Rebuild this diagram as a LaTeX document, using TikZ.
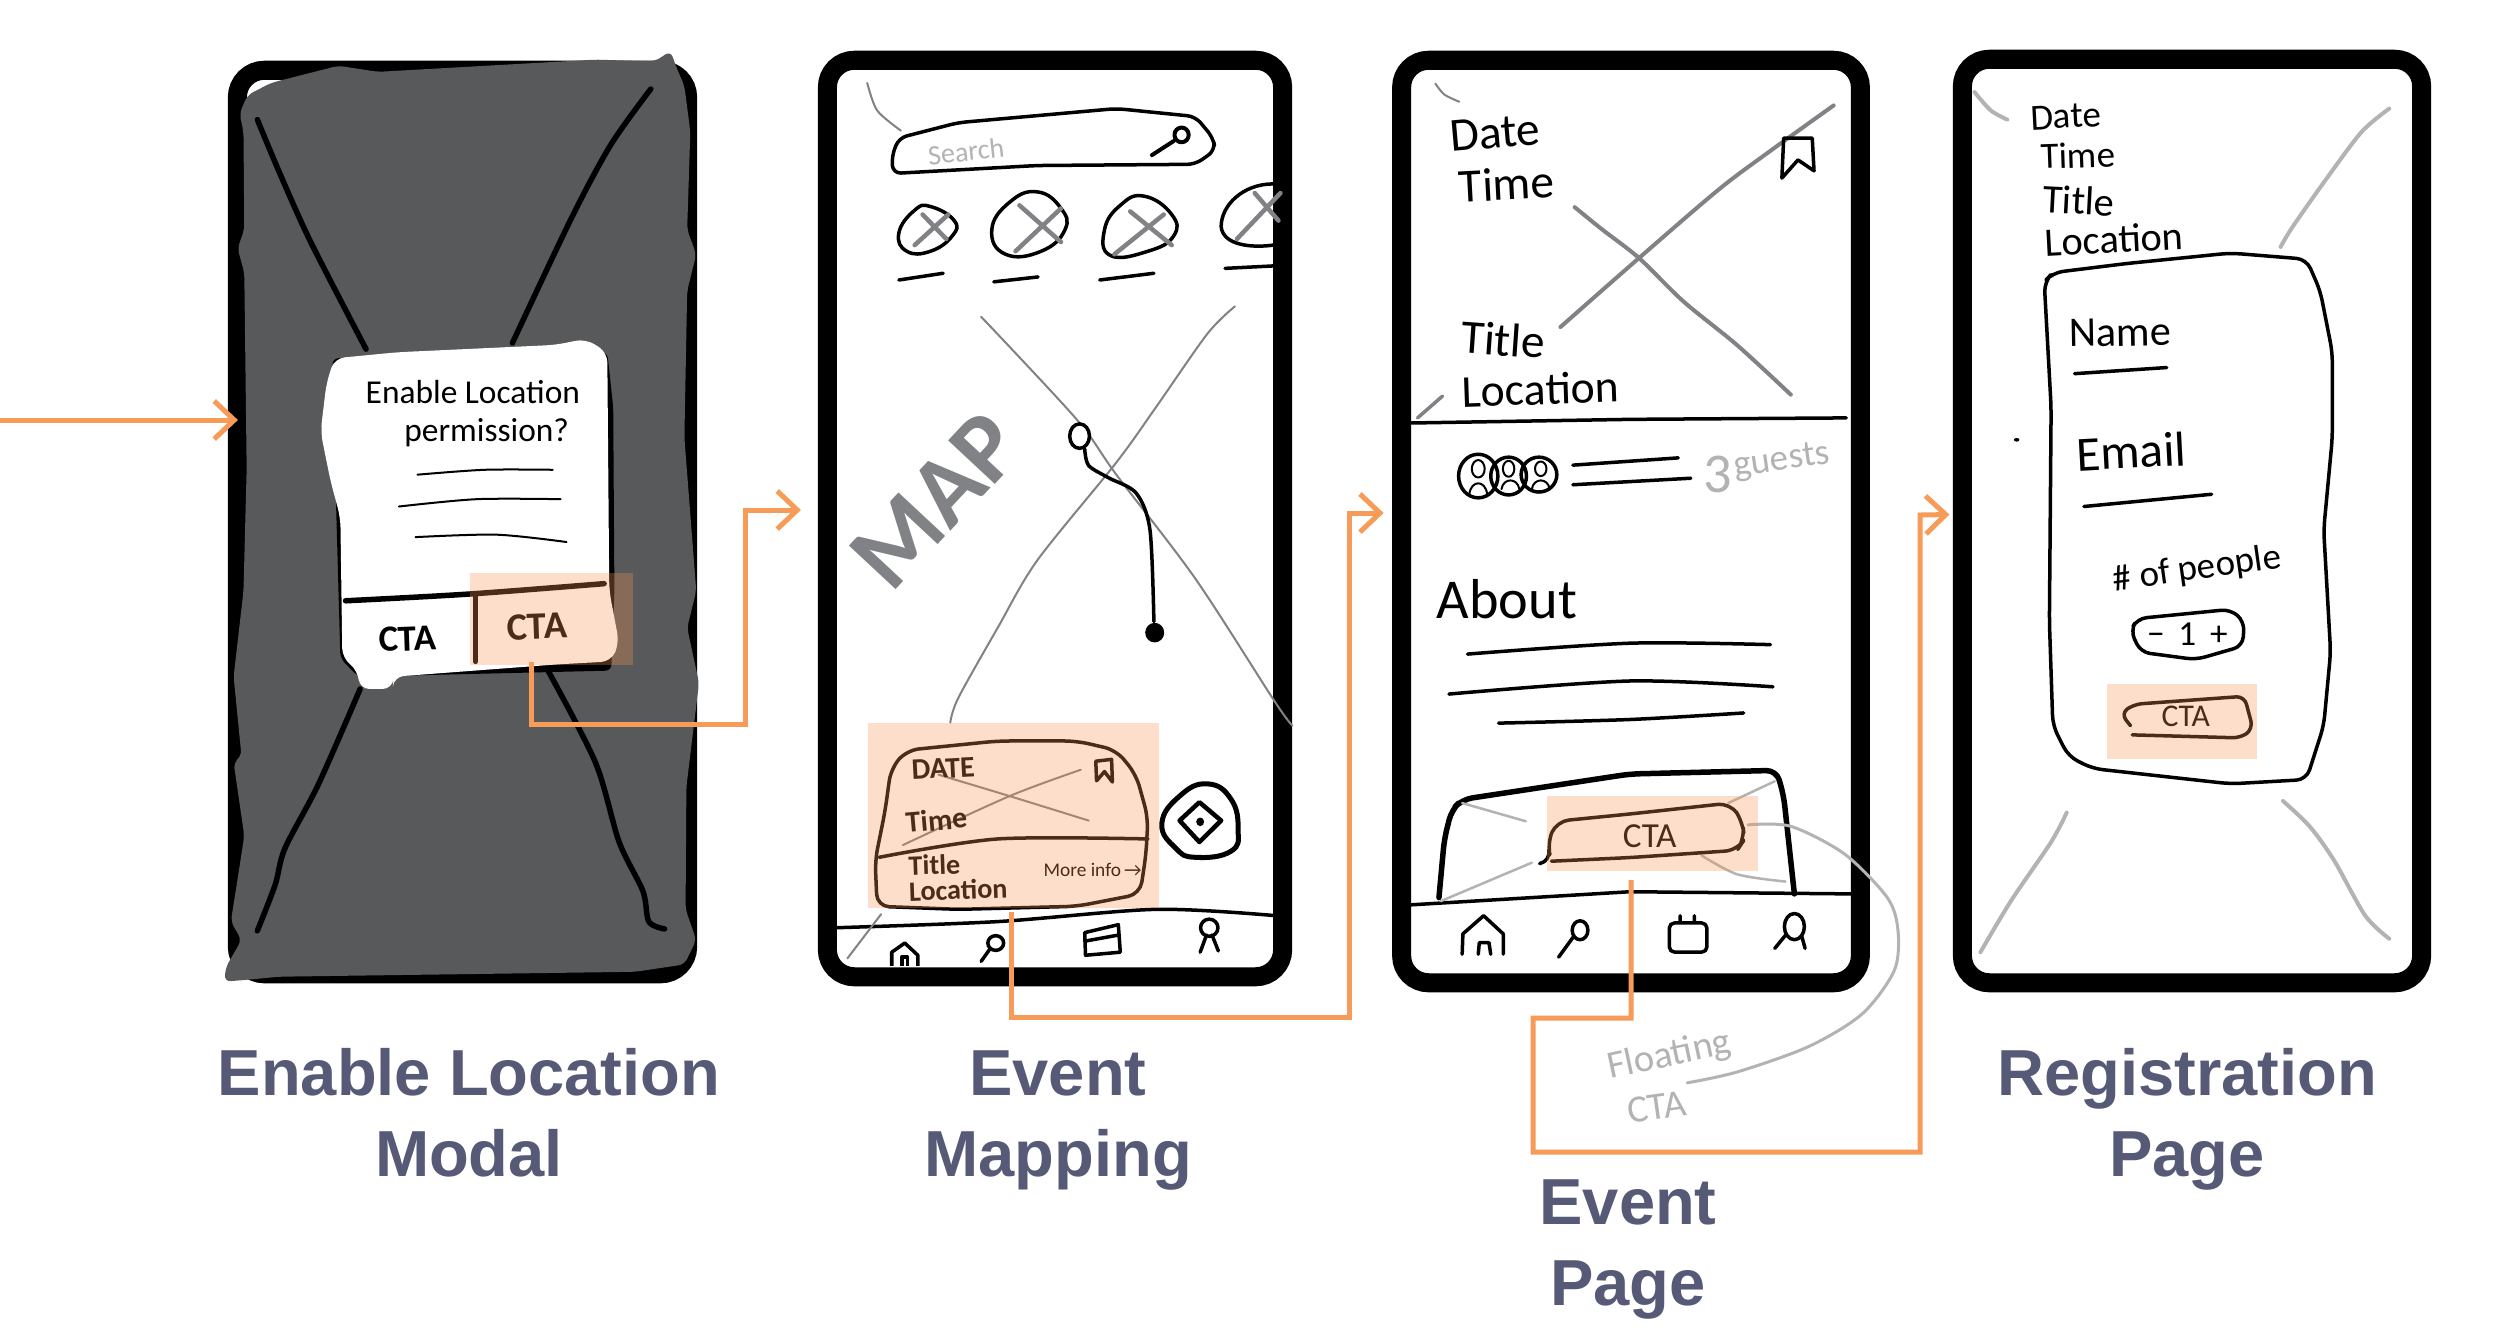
\documentclass[tikz,border=0pt]{standalone}
\usepackage{fontspec}
\setmainfont{Noto Sans}
\newfontfamily\handf{Carlito}
\newfontfamily\capf{Liberation Sans}
\usetikzlibrary{arrows.meta}
\definecolor{inkgray}{HTML}{808285}
\definecolor{softgray}{HTML}{B3B3B3}
\definecolor{blobgray}{HTML}{58595B}
\definecolor{flowc}{HTML}{F79B58}
\definecolor{hlc}{HTML}{F69450}
\definecolor{capc}{HTML}{565A76}
\tikzset{
  z1/.style={shift={(200,40)},x=0.003954cm,y=-0.006124cm},
  z2/.style={shift={(800,40)},x=0.003954cm,y=-0.006124cm},
  z3/.style={shift={(1380,40)},x=0.003571cm,y=-0.00727cm},
  z4/.style={shift={(1920,40)},x=0.003444cm,y=-0.006124cm},
  ink/.style={draw=black,line width=0.035cm,line cap=round,line join=round},
  thick ink/.style={ink,line width=0.055cm},
  thin ink/.style={ink,line width=0.02cm},
  gray ink/.style={ink,draw=inkgray,line width=0.02cm},
  soft ink/.style={ink,draw=softgray,line width=0.04cm},
  gx/.style={ink,draw=inkgray,line width=0.045cm},
  phone/.style={draw=black,fill=white,line width=0.19cm,rounded corners=0.27cm,inner sep=0,outer sep=0},
  hilite/.style={fill=hlc,fill opacity=0.3,inner sep=0,outer sep=0},
  flow/.style={draw=flowc,line width=0.05cm,line join=miter,-{Straight Barb[length=0.2cm,width=0.38cm,line width=0.05cm]}},
  hand/.style={font=\handf,inner sep=0,text=black},
  capt/.style={font=\capf\fontsize{18.5}{23}\selectfont\bfseries,text=capc,anchor=base,inner sep=0},
}
\newcommand\sk[2][ink]{\draw[#1] plot[smooth,tension=.5] coordinates {#2};}
\newcommand\skc[2][ink]{\draw[#1] plot[smooth cycle,tension=.8] coordinates {#2};}
\newcommand\fs[1]{\fontsize{#1}{#1}\selectfont}
\begin{document}
\begin{tikzpicture}[x=0.01cm,y=-0.01cm]
\useasboundingbox (0,0) rectangle (2500,1338);
\fill[white] (0,0) rectangle (2500,1338);
% phones
\node[phone,minimum width=4.50cm,minimum height=9.03cm] (ph1) at (462.5,522) {};
\node[phone,minimum width=4.55cm,minimum height=9.16cm] (ph2) at (1055,518.5) {};
\node[phone,minimum width=4.585cm,minimum height=9.22cm] (ph3) at (1631,521.5) {};
\node[phone,minimum width=4.59cm,minimum height=9.23cm] (ph4) at (2192,521) {};
% ---------- phone 1
\begin{scope}[z1]
\fill[blobgray,rounded corners=0.06cm] (100,120)--(120,90)--(180,70)--(350,42)--(450,52)--(1000,32)--(1150,35)--(1190,18)--(1205,45)--(1225,75)--(1240,150)--(1232,310)--(1255,350)--(1232,410)--(1225,650)--(1255,900)--(1232,960)--(1262,1050)--(1230,1220)--(1228,1420)--(1255,1470)--(1225,1510)--(1100,1522)--(200,1530)--(120,1535)--(62,1538)--(65,1515)--(105,1470)--(78,1440)--(100,1350)--(112,1300)--(85,1180)--(105,1170)--(85,1040)--(110,900)--(118,700)--(112,380)--(95,340)--(112,310)--(110,150)--cycle;
\sk[thick ink]{(145,130)(200,215)(280,330)(420,505)}
\sk[thick ink]{(1140,80)(1040,170)(940,290)(790,495)}
\sk[thick ink]{(405,1060)(300,1215)(215,1320)(190,1380)(145,1455)}
\sk[thick ink]{(880,1030)(1000,1180)(1060,1310)(1120,1390)(1135,1440)(1175,1452)}
\fill[black,rounded corners=0.06cm] (335,520)--(1030,510)--(1045,600)--(1048,900)--(1040,1030)--(400,1040)--(355,1010)--(345,780)--cycle;
\fill[white,rounded corners=0.1cm] (340,520)--(500,510)--(900,498)--(975,488)--(1030,510)--(1035,900)--(1060,985)--(1040,1015)--(900,1020)--(490,1040)--(487,1060)--(403,1060)--(400,1030)--(360,1010)--(355,780)--(330,720)--(305,640)--(320,560)--cycle;
\node[hand,font=\handf\fs{9.5}] (m1) at (690,575) {Enable Location};
\node[hand,font=\handf\fs{9.5}] (m2) at (725,641) {permission?};
\sk[thin ink]{(550,710)(720,702)(892,702)}
\sk[thin ink]{(503,762)(700,750)(912,750)}
\sk[thin ink]{(545,812)(750,808)(927,820)}
\sk[thick ink]{(368,916)(680,905)(1022,888)}
\draw[thick ink] (697,905)--(697,1015);
\node[hand,font=\handf\bfseries\fs{10.5},rotate=2] (m3) at (525,978) {CTA};
\node[hand,font=\handf\bfseries\fs{11},rotate=2] (m4) at (852,958) {CTA};
\end{scope}
\node[hilite,minimum width=1.62cm,minimum height=0.92cm] (hl1) at (551.5,619) {};
% ---------- phone 2
\begin{scope}[z2]
\sk[gray ink]{(170,70)(195,115)(255,148)}
\draw[ink,rounded corners=0.08cm] (235,218)--(232,190)--(250,160)--(400,135)--(800,112)--(1000,125)--(1045,160)--(1050,180)--(1000,203)--(600,205)--cycle;
\node[hand,font=\handf\fs{8},text=softgray,rotate=6] (s1) at (420,182) {Search};
\draw[ink,line width=0.04cm] (965,155) ellipse[x radius=18,y radius=12];
\draw[ink,line width=0.04cm] (945,165)--(890,188);
\skc{(250,315)(290,278)(330,272)(390,295)(385,320)(330,345)(270,345)}
\skc{(485,310)(530,265)(600,248)(660,275)(670,310)(610,345)(520,350)}
\skc{(770,310)(810,270)(870,255)(940,285)(945,320)(880,345)(785,352)}
\draw[ink] (1197,235) .. controls (1120,235) and (1065,270) .. (1065,305) .. controls (1070,335) and (1140,340) .. (1197,335);
\draw[gx] (290,335)--(375,285) (310,285)--(370,325);
\draw[gx] (545,345)--(660,275) (555,270)--(660,330);
\draw[gx] (795,350)--(920,285) (835,280)--(940,335);
\draw[gx] (1105,325)--(1215,250) (1150,250)--(1210,295);
\draw[ink,line width=0.035cm] (250,392)--(362,381) (490,395)--(602,387) (758,392)--(895,381) (1075,373)--(1197,369);
\sk[gray ink]{(458,452)(700,620)(800,710)(1000,880)(1200,1080)(1245,1120)}
\sk[gray ink]{(1100,435)(1030,480)(900,600)(800,690)(600,850)(500,960)(400,1075)(380,1115)}
\node[font=\handf\bfseries\fs{28},text=inkgray,rotate=47,inner sep=0] (s2) at (344,752) {MAP};
\draw[ink,fill=white] (707,647) ellipse[x radius=25,y radius=20];
\sk{(720,668)(730,695)(780,715)(850,740)(885,800)(895,950)}
\fill[black] (897,968) ellipse[x radius=24,y radius=16];
\draw[ink,rounded corners=0.12cm] (195,1415)--(190,1340)--(215,1260)--(230,1190)--(270,1160)--(500,1145)--(700,1145)--(800,1160)--(850,1200)--(880,1270)--(875,1330)--(860,1395)--(700,1415)--(400,1420)--cycle;
\sk{(200,1335)(500,1305)(880,1305)}
\sk[gray ink]{(350,1200)(530,1235)(730,1275)}
\sk[gray ink]{(260,1315)(530,1235)(710,1192)}
\node[hand,font=\handf\bfseries\fs{8.5},rotate=3] (s3) at (362,1190) {DATE};
\node[hand,font=\handf\bfseries\fs{8.5},rotate=5] (s4) at (345,1274) {Time};
\node[hand,font=\handf\bfseries\fs{8},rotate=2] (s5) at (340,1347) {Title};
\node[hand,font=\handf\bfseries\fs{8},rotate=2] (s6) at (400,1388) {Location};
\node[hand,font=\handf\fs{5.5}] (s7) at (740,1355) {More info\,→};
\draw[ink] (750,1210)--(748,1178)--(788,1175)--(790,1212)--(770,1195)--cycle;
\skc[ink,line width=0.05cm]{(915,1280)(960,1235)(1030,1215)(1090,1240)(1108,1290)(1090,1325)(1000,1335)(950,1320)}
\draw[ink,line width=0.045cm] (960,1275)--(1010,1245)--(1065,1275)--(1010,1310)--cycle;
\fill[black] (1012,1277) circle[x radius=10,y radius=7];
\sk{(93,1450)(500,1440)(900,1420)(1197,1430)}
\draw[gray ink] (120,1500)--(205,1428);
\begin{scope}
\clip (200,1460) rectangle (330,1512);
\draw[ink] (232,1512)--(232,1490)--(265,1475)--(298,1495)--(298,1512);
\draw[ink] (258,1512)--(258,1498)--(272,1498)--(272,1512);
\end{scope}
\draw[ink] (495,1475) ellipse[x radius=20,y radius=12];
\draw[ink] (480,1485)--(458,1505);
\draw[ink] (720,1458)--(805,1445)--(810,1490)--(722,1495)--cycle (720,1472)--(805,1462);
\draw[ink] (1035,1450) ellipse[x radius=22,y radius=14];
\draw[ink] (1012,1490)--(1028,1462) (1042,1462)--(1058,1488);
\end{scope}
\node[hilite,minimum width=2.906cm,minimum height=1.85cm] (hl2) at (1013.3,815.5) {};
% ---------- phone 3
\begin{scope}[z3]
\sk[gray ink]{(155,60)(180,75)(222,85)}
\draw[ink,draw=inkgray] (105,520)--(175,490);
\node[hand,font=\handf\fs{13.5},rotate=5] (e1) at (322,128) {Date};
\node[hand,font=\handf\fs{13.5},rotate=3] (e2) at (355,198) {Time};
\node[hand,font=\handf\fs{13.5},rotate=-4] (e3) at (345,412) {Title};
\node[hand,font=\handf\fs{13},rotate=2] (e4) at (450,480) {Location};
\sk[gx,line width=0.04cm]{(545,230)(620,260)(725,300)(850,360)(1000,420)(1150,488)}
\sk[gx,line width=0.04cm]{(1270,90)(1100,150)(950,205)(725,300)(505,395)}
\draw[ink] (1125,190)--(1130,135)--(1210,135)--(1215,180)--(1170,165)--cycle;
\draw[ink] (88,527)--(700,522)--(1305,520);
\draw[ink] (275,600) ellipse[x radius=55,y radius=30] (360,600) ellipse[x radius=50,y radius=26] (445,598) ellipse[x radius=50,y radius=24];
\draw[thin ink] (275,590) ellipse[x radius=18,y radius=12] (360,590) ellipse[x radius=16,y radius=11] (450,590) ellipse[x radius=16,y radius=10];
\draw[thin ink] (250,625)..controls(255,605)and(295,605)..(300,625) (340,618)..controls(345,602)and(385,602)..(390,618) (425,618)..controls(430,602)and(470,602)..(475,618);
\draw[ink] (540,585)--(835,575) (540,612)--(870,603);
\node[hand,font=\handf\fs{16},text=softgray] (e5) at (945,598) {3};
\node[hand,font=\handf\fs{10.5},text=softgray,rotate=8] (e6) at (1125,580) {guests};
\node[hand,font=\handf\fs{16}] (e7) at (355,770) {About};
\sk{(245,845)(700,830)(1093,832)}
\sk{(193,900)(700,882)(1100,890)}
\sk{(332,940)(700,935)(1018,926)}
\draw[thick ink,rounded corners=0.1cm] (165,1180)--(180,1100)--(200,1060)--(230,1045)--(700,1010)--(1110,1005)--(1130,1040)--(1150,1130)--(1160,1175);
\draw[ink] (88,1190)--(700,1172)--(1320,1175);
\draw[soft ink,line width=0.025cm] (230,1050)--(408,1075) (170,1185)--(425,1132) (975,1050)--(1105,1020);
\sk[soft ink,line width=0.025cm]{(900,1122)(1000,1148)(1135,1158)}
\draw[ink,rounded corners=0.12cm] (450,1133)--(480,1130)--(468,1105)--(495,1075)--(700,1065)--(980,1050)--(1015,1075)--(1020,1100)--(1000,1115)--(700,1125)--(480,1130);
\node[hand,font=\handf\fs{10}] (e8) at (755,1095) {CTA};
\draw[ink] (230,1258)--(232,1230)--(290,1205)--(345,1230)--(345,1258) (275,1258)--(278,1242)--(305,1242)--(310,1258);
\draw[ink] (560,1225) ellipse[x radius=22,y radius=13] (540,1235)--(500,1262);
\draw[ink,rounded corners=0.05cm] (810,1215)rectangle(915,1255) (840,1215)--(840,1205) (880,1215)--(880,1205);
\draw[ink] (1160,1220) ellipse[x radius=28,y radius=18] (1105,1250)--(1135,1232) (1180,1232)--(1190,1250);
\sk[soft ink,line width=0.03cm]{(1030,1080)(1150,1082)(1300,1120)(1420,1180)(1450,1225)(1440,1280)(1350,1340)(1200,1385)(1000,1420)(860,1435)}
\node[hand,font=\handf\fs{11},text=softgray,rotate=12] (e9) at (810,1398) {Floating};
\node[hand,font=\handf\fs{11},text=softgray,rotate=8] (e10) at (775,1468) {CTA};
\end{scope}
\node[hilite,minimum width=2.11cm,minimum height=0.75cm] (hl3) at (1652.5,833.5) {};
% ---------- phone 4
\begin{scope}[z4]
\sk[soft ink]{(158,85)(205,115)(253,130)}
\sk[soft ink]{(1360,112)(1280,150)(1180,225)(1080,305)(1045,338)}
\sk[soft ink]{(425,1262)(380,1310)(265,1405)(175,1490)}
\sk[soft ink]{(1052,1243)(1130,1285)(1200,1340)(1290,1430)(1360,1468)}
\node[hand,font=\handf\fs{10.5},rotate=3] (r1) at (422,125) {Date};
\node[hand,font=\handf\fs{10.5},rotate=2] (r2) at (458,188) {Time};
\node[hand,font=\handf\fs{11.5},rotate=-3] (r3) at (460,262) {Title};
\node[hand,font=\handf\fs{11.5},rotate=3] (r4) at (562,325) {Location};
\draw[ink,rounded corners=0.1cm] (360,395)--(385,380)--(600,365)--(900,348)--(1120,358)--(1160,410)--(1195,510)--(1195,650)--(1170,800)--(1190,1000)--(1170,1120)--(1120,1208)--(900,1215)--(500,1190)--(430,1170)--(385,1120)--(375,950)--(380,600)--cycle;
\node[hand,font=\handf\fs{12},rotate=1] (r5) at (580,478) {Name};
\draw[ink] (448,545)--(715,535);
\node[hand,font=\handf\fs{14},rotate=3] (r6) at (612,672) {Email};
\draw[ink] (475,762)--(845,742);
\node[hand,font=\handf\fs{10.5},rotate=8] (r7) at (803,865) {\# of people};
\draw[ink,rounded corners=0.09cm] (610,965)--(630,945)--(900,930)--(940,950)--(935,990)--(800,1012)--(640,1000)--cycle;
\node[hand,font=\handf\fs{10}] (r8) at (775,970) {−\, 1\, +};
\draw[ink,rounded corners=0.08cm] (610,1120)--(582,1100)--(620,1085)--(940,1072)--(965,1125)--(930,1140)--(615,1135);
\node[hand,font=\handf\fs{9}] (r9) at (770,1105) {CTA};
\fill[black] (280,653) circle[x radius=8,y radius=3];
\end{scope}
\node[hilite,minimum width=1.50cm,minimum height=0.75cm] (hl4) at (2182,721.5) {};
% connectors
\coordinate (entry) at (0,420);
\coordinate (a1) at (531,724);
\coordinate (a2) at (745.7,510);
\coordinate (b1) at (1011.5,1017);
\coordinate (b2) at (1349,513);
\coordinate (c1) at (1631,1018);
\coordinate (c2) at (1533,1152);
\coordinate (c3) at (1920,515);
\draw[flow] (entry) -- ([shift={(0.5,-102)}]ph1.west);
\draw[flow] ([shift={(-20.5,-3)}]hl1.south) -- (a1) -| (a2) -- ([shift={(-26.5,-8.5)}]ph2.west);
\draw[flow] ([shift={(-1.8,4)}]hl2.south) -- (b1) -| (b2) -- ([shift={(-18,-8.5)}]ph3.west);
\draw[flow] ([shift={(-21.5,9)}]hl3.south) -- (c1) -| (c2) -| (c3) -- ([shift={(-13,-6.5)}]ph4.west);
% captions
\node[capt] (t1) at (469,1095) {Enable Location};
\node[capt] (t1b) at (469,1176) {Modal};
\node[capt] (t2) at (1058,1095) {Event};
\node[capt] (t2b) at (1058,1176) {Mapping};
\node[capt] (t3) at (1628,1224) {Event};
\node[capt] (t3b) at (1628,1305) {Page};
\node[capt] (t4) at (2187,1095) {Registration};
\node[capt] (t4b) at (2187,1176) {Page};
\end{tikzpicture}
\end{document}
